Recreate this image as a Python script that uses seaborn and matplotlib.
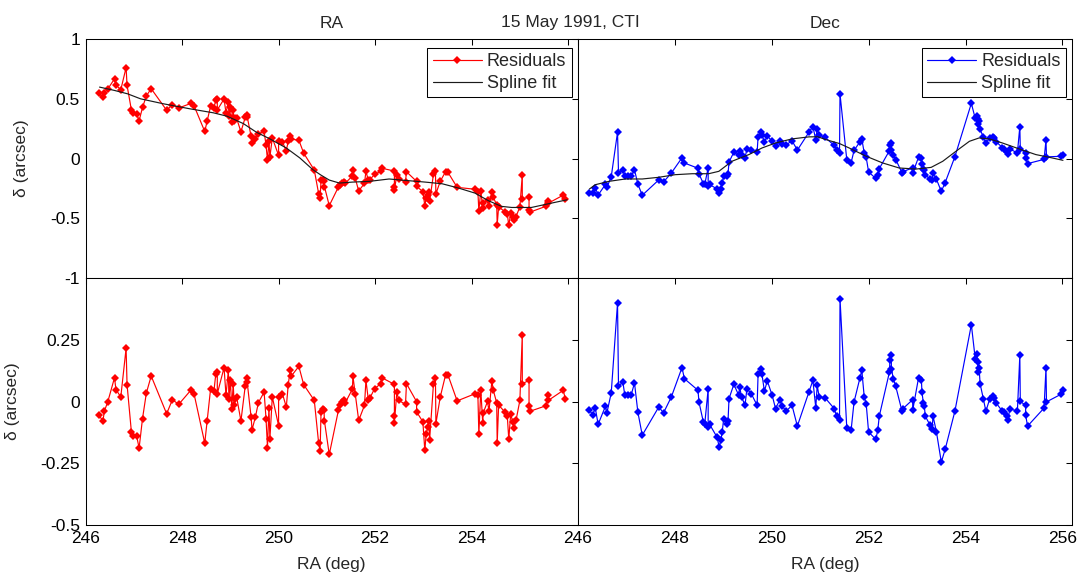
import numpy as np
import pandas as pd
import matplotlib
matplotlib.use("Agg")
import matplotlib.pyplot as plt
import seaborn as sns

# ---- RA residuals after spline removal (arcsec) ----
ra_x = [246.27, 246.36, 246.39, 246.46, 246.60, 246.63, 246.73, 246.84, 246.86, 246.95,
        246.99, 247.06, 247.11, 247.18, 247.26, 247.36, 247.68, 247.80, 247.93, 248.18,
        248.25, 248.47, 248.52, 248.59, 248.66, 248.70, 248.73, 248.73, 248.87, 248.91,
        248.96, 248.97, 249.00, 249.03, 249.06, 249.08, 249.10, 249.13, 249.22, 249.31,
        249.35, 249.35, 249.43, 249.45, 249.52, 249.58, 249.70, 249.74, 249.77, 249.80,
        249.82, 249.87, 250.00, 250.00, 250.08, 250.16, 250.20, 250.24, 250.26, 250.42,
        250.52, 250.74, 250.83, 250.86, 250.88, 250.92, 250.94, 250.95, 251.05, 251.24,
        251.28, 251.32, 251.36, 251.38, 251.53, 251.54, 251.59, 251.66, 251.78, 251.81,
        251.86, 251.89, 251.99, 252.12, 252.15, 252.40, 252.40, 252.40, 252.45, 252.49,
        252.63, 252.65, 252.86, 252.86, 252.99, 253.03, 253.06, 253.09, 253.11, 253.13,
        253.21, 253.25, 253.26, 253.35, 253.46, 253.51, 253.70, 254.07, 254.13, 254.15,
        254.19, 254.23, 254.24, 254.33, 254.36, 254.42, 254.45, 254.52, 254.53, 254.56,
        254.69, 254.74, 254.77, 254.81, 254.85, 254.88, 254.92, 255.00, 255.05, 255.05,
        255.19, 255.19, 255.21, 255.55, 255.58, 255.59, 255.90, 255.94]
ra_resid = [-0.053, -0.078, -0.038, -0.001, 0.097, 0.049, 0.019, 0.216, 0.069, -0.123,
            -0.141, -0.141, -0.188, -0.069, 0.035, 0.104, -0.049, 0.008, -0.011, 0.046,
            0.030, -0.168, -0.078, 0.050, 0.043, 0.114, 0.120, 0.032, 0.138, 0.026,
            0.127, 0.009, 0.089, -0.028, 0.073, -0.015, 0.012, 0.019, -0.078, 0.065,
            0.097, 0.078, -0.062, -0.114, -0.062, -0.005, 0.039, -0.069, -0.186, -0.024,
            -0.150, 0.019, -0.097, 0.019, 0.032, -0.022, 0.069, 0.127, 0.103, 0.143,
            0.069, 0.005, -0.168, -0.200, -0.042, -0.028, -0.035, -0.078, -0.214, -0.035,
            -0.015, -0.001, 0.008, -0.005, 0.051, 0.104, 0.030, -0.076, -0.015, 0.086,
            0.008, 0.014, 0.053, 0.073, 0.096, 0.070, -0.059, -0.085, 0.039, 0.005,
            -0.011, 0.073, 0.000, -0.041, -0.082, -0.197, -0.130, -0.103, -0.080, -0.154,
            0.073, 0.097, -0.089, 0.019, 0.108, 0.108, 0.003, 0.032, 0.026, -0.132,
            0.049, -0.085, -0.046, 0.001, -0.039, 0.084, 0.046, -0.005, -0.168, -0.014,
            -0.042, -0.059, -0.153, -0.049, -0.082, -0.107, -0.076, 0.005, 0.272, 0.073,
            0.086, -0.019, -0.039, -0.016, 0.026, 0.005, 0.046, 0.012]

# ---- RA spline fit (arcsec) ----
ra_spline_x = [246.29, 246.60, 246.87, 247.14, 247.62, 248.17, 248.65, 248.93, 249.27, 249.54,
               249.82, 250.16, 250.44, 250.71, 250.88, 251.05, 251.26, 251.53, 251.88, 252.29,
               252.63, 253.04, 253.39, 253.73, 254.07, 254.35, 254.62, 254.83, 255.24, 255.65,
               255.98]
ra_spline_y = [0.598, 0.570, 0.542, 0.500, 0.458, 0.416, 0.383, 0.355, 0.293, 0.221,
               0.165, 0.089, 0.006, -0.092, -0.138, -0.179, -0.204, -0.196, -0.190, -0.170,
               -0.182, -0.196, -0.210, -0.246, -0.288, -0.352, -0.399, -0.408, -0.408, -0.372,
               -0.344]

# ---- Dec residuals after spline removal (arcsec) ----
dec_x = [246.24, 246.31, 246.36, 246.42, 246.57, 246.60, 246.69, 246.82, 246.84, 246.93,
         246.97, 247.04, 247.10, 247.17, 247.24, 247.33, 247.67, 247.77, 247.93, 248.15,
         248.20, 248.48, 248.50, 248.59, 248.62, 248.69, 248.69, 248.72, 248.87, 248.92,
         248.95, 248.98, 249.01, 249.08, 249.10, 249.12, 249.22, 249.32, 249.34, 249.38,
         249.45, 249.49, 249.58, 249.70, 249.72, 249.79, 249.80, 249.85, 249.91, 250.01,
         250.08, 250.17, 250.22, 250.30, 250.42, 250.53, 250.77, 250.85, 250.91, 250.94,
         250.98, 251.10, 251.29, 251.34, 251.40, 251.41, 251.55, 251.64, 251.70, 251.82,
         251.86, 251.91, 251.95, 252.00, 252.15, 252.19, 252.22, 252.43, 252.44, 252.47,
         252.47, 252.51, 252.56, 252.69, 252.71, 252.91, 252.91, 253.03, 253.09, 253.10,
         253.13, 253.15, 253.17, 253.27, 253.31, 253.33, 253.40, 253.50, 253.58, 253.78,
         254.12, 254.20, 254.23, 254.25, 254.26, 254.28, 254.30, 254.37, 254.42, 254.50,
         254.56, 254.59, 254.63, 254.76, 254.80, 254.85, 254.88, 254.91, 255.07, 255.12,
         255.13, 255.24, 255.24, 255.28, 255.62, 255.66, 255.67, 255.97, 256.01]
dec_resid = [-0.035, -0.053, -0.024, -0.092, -0.019, -0.046, 0.035, 0.400, 0.062, 0.080,
             0.026, 0.026, 0.026, 0.076, -0.043, -0.136, -0.022, -0.045, 0.019, 0.138,
             0.093, 0.046, -0.001, -0.082, -0.089, 0.051, -0.103, -0.092, -0.143, -0.184,
             -0.157, -0.123, -0.069, -0.092, -0.078, 0.012, 0.070, 0.026, 0.059, 0.019,
             -0.015, 0.053, 0.032, -0.015, 0.111, 0.134, 0.111, 0.043, 0.084, 0.026,
             -0.028, 0.008, -0.019, -0.038, -0.015, -0.099, 0.039, 0.086, -0.024, 0.066,
             0.019, 0.016, -0.028, -0.059, -0.076, 0.418, -0.107, -0.114, -0.001, 0.096,
             0.127, 0.019, -0.008, -0.123, -0.153, -0.114, -0.059, 0.120, 0.168, 0.188,
             0.134, 0.093, 0.062, -0.039, -0.028, 0.008, -0.035, 0.096, 0.089, 0.039,
             -0.005, -0.019, -0.059, -0.096, -0.109, -0.059, -0.123, -0.245, -0.193, -0.039,
             0.312, 0.174, 0.192, 0.161, 0.120, 0.138, 0.073, 0.009, -0.039, 0.012,
             0.022, 0.016, -0.005, -0.039, -0.042, -0.059, -0.076, -0.028, -0.039, 0.188,
             0.001, -0.015, -0.055, -0.099, -0.026, 0.138, -0.001, 0.030, 0.046]

# ---- Dec spline fit (arcsec) ----
dec_spline_x = [246.24, 246.36, 246.64, 246.98, 247.33, 247.67, 248.01, 248.36, 248.70, 248.91,
                249.18, 249.53, 249.80, 250.08, 250.42, 250.77, 250.95, 251.12, 251.40, 251.60,
                251.95, 252.29, 252.63, 252.98, 253.29, 253.53, 253.80, 254.08, 254.28, 254.49,
                254.76, 255.11, 255.45, 255.73, 256.01]
dec_spline_y = [-0.254, -0.218, -0.190, -0.170, -0.170, -0.156, -0.134, -0.126, -0.126, -0.106,
                -0.022, 0.034, 0.089, 0.131, 0.165, 0.182, 0.183, 0.159, 0.126, 0.089,
                0.020, -0.036, -0.078, -0.087, -0.073, -0.022, 0.061, 0.145, 0.173, 0.165,
                0.131, 0.081, 0.034, 0.011, -0.014]

x_ticks = [246, 248, 250, 252, 254, 256]

sns.set_theme(style="white")
plt.rcParams.update({
    "font.family": ["Liberation Sans", "DejaVu Sans"],
    "axes.unicode_minus": False,
    "font.size": 12.5,
})

FS = 12.5
W, H = 1083, 577
fig = plt.figure(figsize=(W / 100, H / 100), dpi=100)

ax_tl = fig.add_axes([0.079, 0.5177, 0.4545, 0.4147])
ax_tr = fig.add_axes([0.5335, 0.5177, 0.4565, 0.4147])
ax_bl = fig.add_axes([0.079, 0.0901, 0.4545, 0.4276])
ax_br = fig.add_axes([0.5335, 0.0901, 0.4565, 0.4276])


def style_axes(ax):
    ax.set_xlim(246, 256.2)
    ax.set_xticks(x_ticks)
    ax.tick_params(direction="in", top=True, right=True, length=4, width=0.75,
                   labelsize=FS, pad=4, colors="black")
    for s in ax.spines.values():
        s.set_color("black")
        s.set_linewidth(0.75)
    ax.set_xlabel("")
    ax.set_ylabel("")


def draw_panel(ax, x, vals, color, label=None):
    df = pd.DataFrame({"ra": x, "val": vals})
    sns.lineplot(data=df, x="ra", y="val", ax=ax, color=color, sort=False,
                 estimator=None, linewidth=0.85, marker="D", markersize=3.8,
                 markeredgewidth=0, label=label, legend=False)


def draw_spline(ax, sx, sy):
    df = pd.DataFrame({"ra": sx, "val": sy})
    sns.lineplot(data=df, x="ra", y="val", ax=ax, color="#1a1a1a", sort=False,
                 estimator=None, linewidth=0.85, label="Spline fit", legend=False)


# Top row: residuals with the spline fit added back
ra_top = np.array(ra_resid) + np.interp(ra_x, ra_spline_x, ra_spline_y)
dec_top = np.array(dec_resid) + np.interp(dec_x, dec_spline_x, dec_spline_y)

draw_panel(ax_tl, ra_x, ra_top, "#ff0000", "Residuals")
draw_spline(ax_tl, ra_spline_x, ra_spline_y)
draw_panel(ax_tr, dec_x, dec_top, "#0000ff", "Residuals")
draw_spline(ax_tr, dec_spline_x, dec_spline_y)

# Bottom row: spline-subtracted residuals
draw_panel(ax_bl, ra_x, ra_resid, "#ff0000")
draw_panel(ax_br, dec_x, dec_resid, "#0000ff")

for ax in (ax_tl, ax_tr, ax_bl, ax_br):
    style_axes(ax)

for ax in (ax_tl, ax_tr):
    ax.set_ylim(-1, 1)
    ax.set_yticks([-1, -0.5, 0, 0.5, 1])
    ax.set_xticklabels([])
ax_tl.set_yticklabels(["-1", "-0.5", "0", "0.5", "1"])
ax_tr.set_yticklabels([])

for ax in (ax_bl, ax_br):
    ax.set_ylim(-0.5, 0.5)
    ax.set_yticks([-0.5, -0.25, 0, 0.25, 0.5])
    ax.set_xlabel("RA (deg)", fontsize=FS, labelpad=8)
ax_bl.set_yticklabels(["-0.5", "-0.25", "0", "0.25", ""])
ax_br.set_yticklabels([])
ax_bl.set_xticklabels(["246", "248", "250", "252", "254", ""])
ax_br.set_xticklabels(["246", "248", "250", "252", "254", "256"])

ax_tl.set_ylabel("δ (arcsec)", fontsize=FS, labelpad=15)
ax_bl.set_ylabel("δ (arcsec)", fontsize=FS, labelpad=15)

ax_tl.set_title("RA", fontsize=FS, pad=8)
ax_tr.set_title("Dec", fontsize=FS, pad=8)
fig.text(0.527, 1 - 26.7 / H, "15 May 1991, CTI", ha="center", va="baseline", fontsize=FS)

for ax in (ax_tl, ax_tr):
    leg = ax.legend(loc="upper right", bbox_to_anchor=(1 - 6 / 493, 1 - 9 / 239),
                    borderaxespad=0, fontsize=13, frameon=True, fancybox=False,
                    framealpha=1, edgecolor="black", handlelength=2.7,
                    handletextpad=0.3, borderpad=0.3, labelspacing=0.25)
    leg.get_frame().set_linewidth(0.75)

fig.savefig("out.png", dpi=100, facecolor="white")
